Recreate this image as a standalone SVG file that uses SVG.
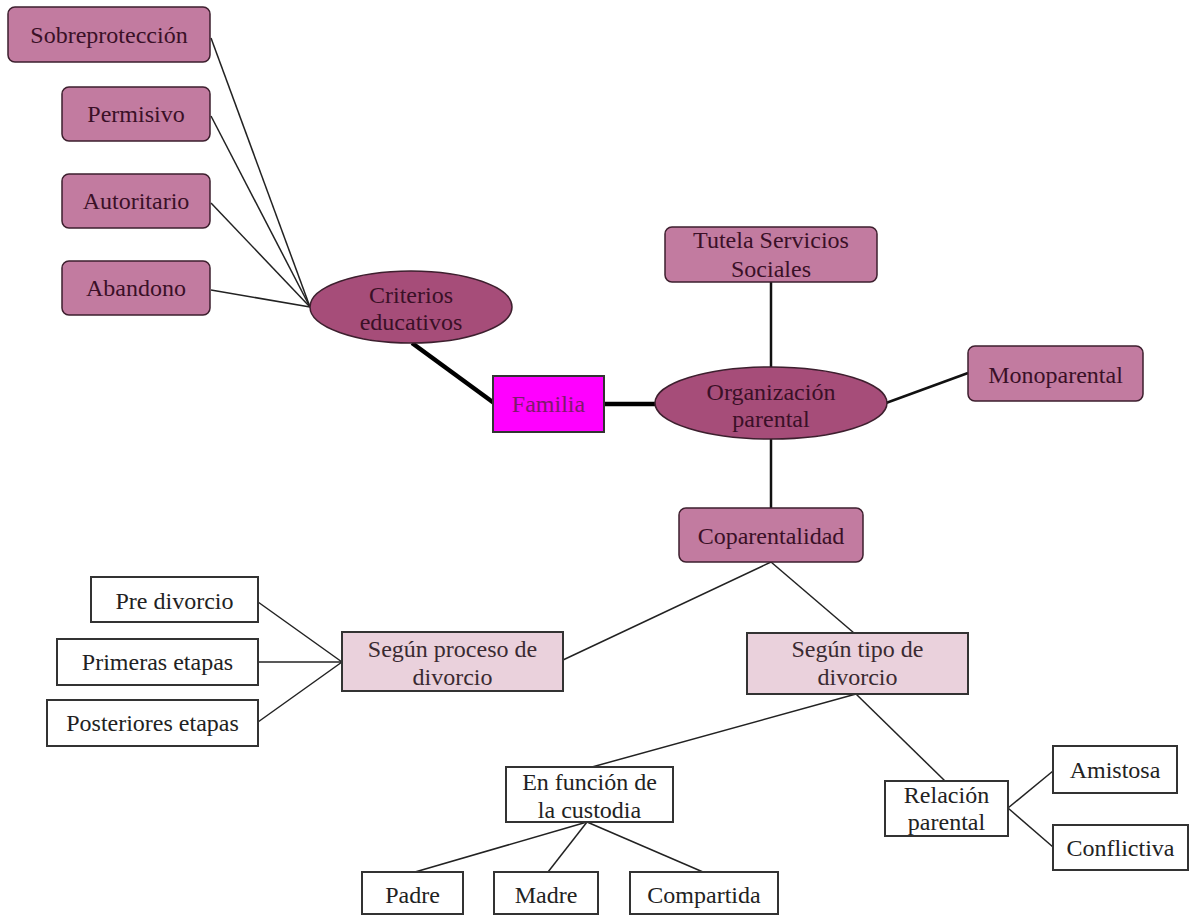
<svg xmlns="http://www.w3.org/2000/svg" width="1201" height="917" viewBox="0 0 1201 917">
<style>
text{font-family:"Liberation Serif","Times New Roman",serif;font-size:24px;text-anchor:middle}
.rb{fill:#c27ba0;stroke:#3d1f2e;stroke-width:1.5}
.el{fill:#a64d79;stroke:#3d1f2e;stroke-width:1.5}
.lb{fill:#ead1dc;stroke:#333;stroke-width:2}
.wb{fill:#fff;stroke:#333;stroke-width:2}
.fam{fill:#ff00ff;stroke:#333;stroke-width:2}
.td{fill:#3a1027}
.tf{fill:#7e1a6c}
.tl{fill:#3a2a31}
.tw{fill:#222}
.c1{stroke:#222;stroke-width:1.5;fill:none}
.c2{stroke:#111;stroke-width:2.5;fill:none}
.c3{stroke:#000;stroke-width:4.5;fill:none}
</style>
<rect width="1201" height="917" fill="#fff"/>
<g id="connectors">
<line class="c1" x1="211" y1="38" x2="310" y2="307"/>
<line class="c1" x1="211" y1="116" x2="310" y2="307"/>
<line class="c1" x1="211" y1="203" x2="310" y2="307"/>
<line class="c1" x1="211" y1="290" x2="310" y2="307"/>
<line class="c3" x1="412" y1="343" x2="494" y2="403"/>
<line class="c3" x1="604" y1="404" x2="657" y2="404"/>
<line class="c2" x1="771" y1="282" x2="771" y2="367"/>
<line class="c2" x1="886" y1="403" x2="968" y2="373"/>
<line class="c2" x1="771" y1="439" x2="771" y2="508"/>
<line class="c1" x1="771" y1="562" x2="563" y2="660"/>
<line class="c1" x1="771" y1="562" x2="854" y2="633"/>
<line class="c1" x1="258" y1="602" x2="342" y2="662"/>
<line class="c1" x1="258" y1="662" x2="342" y2="662"/>
<line class="c1" x1="258" y1="722" x2="342" y2="662"/>
<line class="c1" x1="856" y1="694" x2="592" y2="767"/>
<line class="c1" x1="856" y1="694" x2="945" y2="781"/>
<line class="c1" x1="587" y1="822" x2="415" y2="872"/>
<line class="c1" x1="587" y1="822" x2="548" y2="872"/>
<line class="c1" x1="587" y1="822" x2="703" y2="872"/>
<line class="c1" x1="1008" y1="808" x2="1053" y2="771"/>
<line class="c1" x1="1008" y1="808" x2="1053" y2="847"/>
</g>
<g id="sobreproteccion"><rect class="rb" x="8" y="7" width="202" height="55" rx="7"/><text class="td" x="109" y="43">Sobreprotección</text></g>
<g id="permisivo"><rect class="rb" x="62" y="87" width="148" height="54" rx="7"/><text class="td" x="136" y="122">Permisivo</text></g>
<g id="autoritario"><rect class="rb" x="62" y="174" width="148" height="54" rx="7"/><text class="td" x="136" y="209">Autoritario</text></g>
<g id="abandono"><rect class="rb" x="62" y="261" width="148" height="54" rx="7"/><text class="td" x="136" y="296">Abandono</text></g>
<g id="criterios"><ellipse class="el" cx="411" cy="307" rx="101" ry="36"/><text class="td" x="411" y="303">Criterios</text><text class="td" x="411" y="330">educativos</text></g>
<g id="familia"><rect class="fam" x="493" y="376" width="111" height="56"/><text class="tf" x="548.5" y="412">Familia</text></g>
<g id="tutela"><rect class="rb" x="665" y="227" width="212" height="55" rx="7"/><text class="td" x="771" y="248">Tutela Servicios</text><text class="td" x="771" y="277">Sociales</text></g>
<g id="organizacion"><ellipse class="el" cx="771" cy="403" rx="116" ry="36"/><text class="td" x="771" y="400">Organización</text><text class="td" x="771" y="427">parental</text></g>
<g id="monoparental"><rect class="rb" x="968" y="346" width="175" height="55" rx="7"/><text class="td" x="1055.5" y="383">Monoparental</text></g>
<g id="coparentalidad"><rect class="rb" x="679" y="508" width="184" height="54" rx="7"/><text class="td" x="771" y="544">Coparentalidad</text></g>
<g id="segun-proceso"><rect class="lb" x="342" y="632" width="221" height="59"/><text class="tl" x="452.5" y="657">Según proceso de</text><text class="tl" x="452.5" y="685">divorcio</text></g>
<g id="segun-tipo"><rect class="lb" x="747" y="633" width="221" height="61"/><text class="tl" x="857.5" y="657">Según tipo de</text><text class="tl" x="857.5" y="685">divorcio</text></g>
<g id="pre-divorcio"><rect class="wb" x="91" y="577" width="167" height="45"/><text class="tw" x="174.5" y="609">Pre divorcio</text></g>
<g id="primeras"><rect class="wb" x="57" y="639" width="201" height="46"/><text class="tw" x="157.5" y="670">Primeras etapas</text></g>
<g id="posteriores"><rect class="wb" x="47" y="700" width="211" height="46"/><text class="tw" x="152.5" y="731">Posteriores etapas</text></g>
<g id="en-funcion"><rect class="wb" x="506" y="767" width="167" height="55"/><text class="tw" x="589.5" y="790">En función de</text><text class="tw" x="589.5" y="818">la custodia</text></g>
<g id="relacion"><rect class="wb" x="885" y="781" width="123" height="55"/><text class="tw" x="946.5" y="803">Relación</text><text class="tw" x="946.5" y="830">parental</text></g>
<g id="amistosa"><rect class="wb" x="1053" y="746" width="124" height="47"/><text class="tw" x="1115" y="778">Amistosa</text></g>
<g id="conflictiva"><rect class="wb" x="1053" y="825" width="135" height="45"/><text class="tw" x="1120.5" y="856">Conflictiva</text></g>
<g id="padre"><rect class="wb" x="362" y="872" width="101" height="42"/><text class="tw" x="412.5" y="903">Padre</text></g>
<g id="madre"><rect class="wb" x="494" y="872" width="104" height="42"/><text class="tw" x="546" y="903">Madre</text></g>
<g id="compartida"><rect class="wb" x="630" y="872" width="148" height="42"/><text class="tw" x="704" y="903">Compartida</text></g>
</svg>
